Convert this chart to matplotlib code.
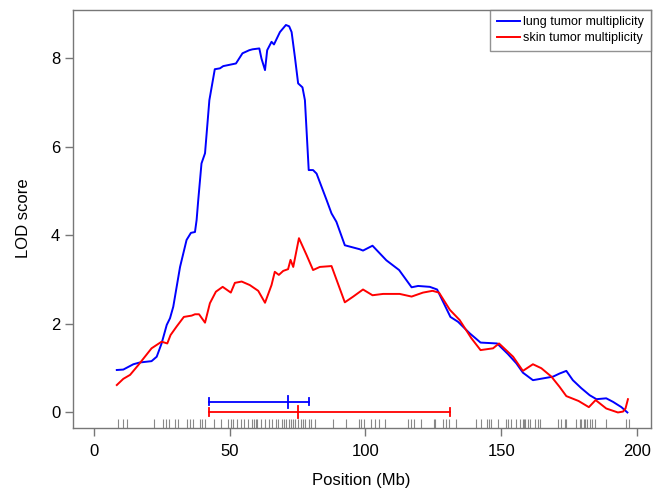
import matplotlib
matplotlib.use("Agg")
import matplotlib.pyplot as plt

plt.rcParams['font.family'] = ['Liberation Sans', 'DejaVu Sans']

# LOD profiles
lung_pos = [8.4, 10.8, 14.5, 16.9, 21.2, 23.1, 24.9, 26.8, 28.0, 29.2,
            31.7, 34.1, 35.7, 37.2, 37.8, 38.4, 39.6, 40.9, 42.5, 44.5,
            46.4, 47.6, 52.3, 54.7, 57.2, 58.4, 60.9, 61.7, 63.0, 63.8,
            65.4, 66.3, 68.5, 70.7, 71.9, 72.8, 74.0, 75.2, 76.8, 77.7,
            79.1, 80.7, 82.0, 85.7, 87.5, 89.3, 92.4, 97.9, 99.1, 102.6,
            107.7, 112.4, 117.0, 119.4, 123.7, 126.4, 131.3, 134.1, 138.4, 142.4,
            148.5, 152.5, 155.6, 158.0, 161.7, 169.1, 171.5, 174.0, 176.4, 179.5,
            182.6, 185.1, 188.7, 191.2, 194.3, 196.5]
lung_lod = [0.95, 0.96, 1.08, 1.12, 1.15, 1.25, 1.55, 1.97, 2.12, 2.38,
            3.28, 3.89, 4.05, 4.07, 4.34, 4.79, 5.62, 5.85, 7.05, 7.75,
            7.77, 7.82, 7.88, 8.11, 8.18, 8.20, 8.22, 7.99, 7.73, 8.18,
            8.37, 8.31, 8.59, 8.75, 8.72, 8.59, 8.03, 7.43, 7.34, 7.05,
            5.47, 5.47, 5.39, 4.79, 4.49, 4.30, 3.77, 3.68, 3.65, 3.76,
            3.43, 3.21, 2.82, 2.85, 2.83, 2.77, 2.15, 2.04, 1.78, 1.57,
            1.55, 1.31, 1.10, 0.89, 0.72, 0.80, 0.87, 0.93, 0.72, 0.54,
            0.38, 0.29, 0.31, 0.23, 0.11, -0.01]

skin_pos = [8.4, 10.8, 13.3, 16.3, 21.2, 24.9, 27.0, 28.2, 30.4, 33.1,
            36.0, 37.2, 38.7, 40.9, 42.7, 44.9, 47.4, 50.4, 51.9, 54.4,
            57.4, 60.5, 63.0, 65.4, 66.6, 68.1, 69.7, 71.5, 72.4, 73.4,
            75.5, 78.3, 80.7, 83.2, 87.5, 92.4, 95.5, 99.1, 102.6, 106.5,
            112.6, 117.0, 121.2, 124.7, 127.1, 131.1, 134.7, 139.0, 142.4, 147.0,
            149.2, 154.4, 158.0, 161.7, 164.8, 168.5, 171.5, 174.0, 178.5, 182.3,
            184.8, 188.7, 193.0, 194.9, 195.8, 196.7]
skin_lod = [0.61, 0.75, 0.84, 1.06, 1.44, 1.59, 1.55, 1.74, 1.93, 2.15,
            2.18, 2.21, 2.21, 2.02, 2.46, 2.72, 2.83, 2.70, 2.92, 2.95,
            2.87, 2.74, 2.47, 2.87, 3.17, 3.10, 3.19, 3.23, 3.44, 3.28,
            3.93, 3.55, 3.21, 3.28, 3.30, 2.48, 2.61, 2.77, 2.64, 2.67,
            2.67, 2.61, 2.70, 2.74, 2.70, 2.31, 2.08, 1.67, 1.40, 1.44,
            1.55, 1.25, 0.93, 1.08, 0.99, 0.80, 0.57, 0.36, 0.25, 0.11,
            0.27, 0.08, -0.01, 0.01, 0.08, 0.29]

# confidence intervals: (lower, peak, upper), drawn at a LOD height
lung_ci = [42.4, 71.4, 79.2]
lung_ci_y = 0.23
skin_ci = [42.4, 75.2, 131.3]
skin_ci_y = 0.0

# marker positions (rug)
markers = [9.0, 10.6, 12.3, 22.2, 25.3, 26.5, 27.6, 29.8, 31.0, 34.1,
           35.3, 36.3, 39.0, 39.9, 41.0, 44.2, 46.8, 49.2, 50.3, 51.1,
           52.5, 54.1, 55.3, 56.8, 58.3, 58.9, 59.5, 60.1, 61.7, 62.9,
           64.4, 65.6, 66.9, 67.9, 69.1, 70.1, 70.9, 71.8, 72.5, 73.4,
           74.2, 75.2, 76.2, 77.1, 77.9, 79.1, 80.1, 81.4, 87.9, 92.8,
           97.6, 98.5, 99.5, 102.2, 103.4, 105.0, 107.1, 115.7, 116.9, 117.9,
           120.6, 125.2, 125.6, 128.4, 129.6, 130.8, 133.5, 140.6, 142.5, 144.6,
           145.5, 146.4, 148.8, 151.7, 152.5, 153.8, 155.6, 156.8, 158.0, 158.4,
           158.9, 159.7, 160.5, 162.3, 163.6, 164.2, 170.9, 172.2, 173.4, 174.0,
           177.7, 178.9, 179.5, 180.4, 181.0, 181.8, 182.6, 183.5, 184.5, 188.8,
           195.8, 197.0]

fig = plt.figure(figsize=(6.62, 4.9), dpi=100)
ax = fig.add_axes([0.1098, 0.1271, 0.983 - 0.1098, 0.9806 - 0.1271])

ax.plot(lung_pos, lung_lod, color='#0000ff', lw=1.4, label='lung tumor multiplicity')
ax.plot(skin_pos, skin_lod, color='#ff0000', lw=1.4, label='skin tumor multiplicity')

# confidence interval bars
for ci, y, col in [(lung_ci, lung_ci_y, '#0000ff'), (skin_ci, skin_ci_y, '#ff0000')]:
    ax.plot([ci[0], ci[2]], [y, y], color=col, lw=1.3)
    ax.plot([ci[0], ci[0]], [y - 0.08, y + 0.08], color=col, lw=1.3)
    ax.plot([ci[2], ci[2]], [y - 0.08, y + 0.08], color=col, lw=1.3)
    ax.plot([ci[1], ci[1]], [y - 0.13, y + 0.13], color=col, lw=1.3)

ax.vlines(markers, 0, 0.022, transform=ax.get_xaxis_transform(),
          color='#888888', lw=0.8)

ax.set_xlim(-7.85, 205.1)
ax.set_ylim(-0.355, 9.1)
ax.set_xticks([0, 50, 100, 150, 200])
ax.set_yticks([0, 2, 4, 6, 8])

for sp in ax.spines.values():
    sp.set_color('#777777')
    sp.set_linewidth(1.0)
ax.tick_params(axis='both', direction='out', length=5.5, width=1.0,
               color='#777777', labelsize=12, labelcolor='black')
ax.tick_params(axis='x', pad=6)
ax.tick_params(axis='y', pad=3.5)

ax.set_xlabel('Position (Mb)', fontsize=12, labelpad=10)
ax.set_ylabel('LOD score', fontsize=12, labelpad=14)

leg = ax.legend(loc='upper right', bbox_to_anchor=(1.0, 1.0), fontsize=9,
                frameon=True, fancybox=False, borderaxespad=0,
                handlelength=1.9, handletextpad=0.2, labelspacing=0.3,
                borderpad=0.55)
leg.get_frame().set_edgecolor('#777777')
leg.get_frame().set_linewidth(1.0)

fig.savefig('out.png', dpi=100)
